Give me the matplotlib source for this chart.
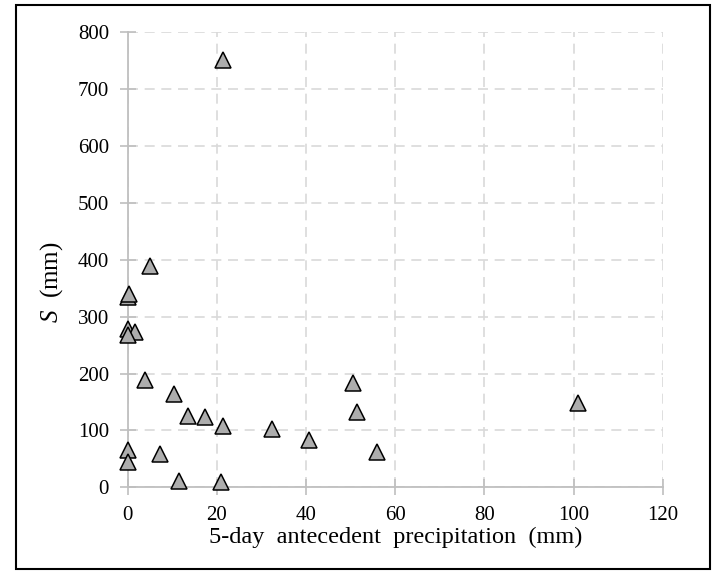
import matplotlib.pyplot as plt
from matplotlib.patches import Rectangle

# 5-day antecedent precipitation (mm) vs S (mm)
precip = [21.3, 4.9, 0.1, 0.4, 0.0, 1.6, 0.0, 3.8, 10.3, 13.6, 17.3, 21.4,
          32.4, 40.7, 50.6, 51.4, 55.9, 101.1, 0.0, 0.0, 7.3, 11.5, 21.0]
s_vals = [752, 390, 335, 340, 278, 273, 268, 188, 164, 126, 123, 107,
          102, 84, 183, 133, 62, 148, 66, 45, 58, 11, 10]

x_ticks = [0, 20, 40, 60, 80, 100, 120]
y_ticks = [0, 100, 200, 300, 400, 500, 600, 700, 800]

plt.rcParams['font.family'] = ['Liberation Serif', 'DejaVu Serif']
plt.rcParams['mathtext.fontset'] = 'custom'
plt.rcParams['mathtext.it'] = 'Liberation Serif:italic'
plt.rcParams['mathtext.rm'] = 'Liberation Serif'

fig = plt.figure(figsize=(7.23, 5.72), dpi=100)
ax = fig.add_axes([0.1766, 0.148, 0.74, 0.7955])

ax.set_axisbelow(True)
ax.grid(True, color='#d9d9d9', linestyle=(0, (6, 4)), linewidth=1.2)

ax.plot(precip, s_vals, linestyle='none', marker='^', markersize=11.8,
        markerfacecolor='#adadad', markeredgecolor='black',
        markeredgewidth=1.1, zorder=3, clip_on=False)

ax.set_xlim(0, 120)
ax.set_ylim(0, 800)
ax.set_xticks(x_ticks)
ax.set_yticks(y_ticks)

for side in ['top', 'right']:
    ax.spines[side].set_visible(False)
for side in ['left', 'bottom']:
    ax.spines[side].set_color('#bfbfbf')
    ax.spines[side].set_linewidth(1.3)

ax.tick_params(axis='both', direction='inout', length=11, width=1.2,
               color='#bfbfbf', labelsize=15, labelcolor='black', pad=8)

ax.set_xlabel('5-day  antecedent  precipitation  (mm)', fontsize=17.5, labelpad=1)
ax.set_ylabel('$S$  (mm)', fontsize=18)
ax.yaxis.set_label_coords(-0.117, 0.45)

fig.patches.append(Rectangle((16 / 723, 1 - 569 / 572), 694 / 723, 564 / 572,
                             transform=fig.transFigure, fill=False,
                             edgecolor='black', linewidth=1.5))

fig.savefig('out.png', dpi=100)
